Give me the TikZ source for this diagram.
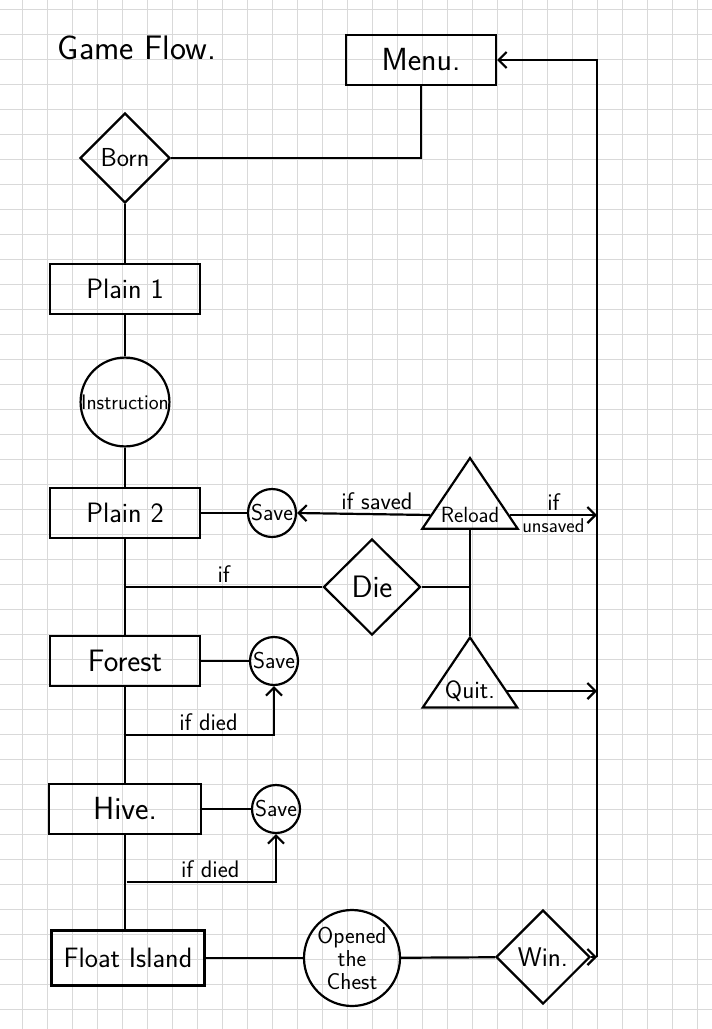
\documentclass[tikz,border=0pt]{standalone}
\usepackage{tikz}
\usetikzlibrary{arrows.meta,shapes.geometric,positioning,calc}
\renewcommand{\familydefault}{\sfdefault}
\tikzset{
    paper/.style={draw=gray!30, line width=0.6pt},
    box/.style={rectangle, draw, line width=2.2pt, minimum width=150pt, minimum height=50pt, font=\fontsize{28}{30}\selectfont},
    choice/.style={diamond, draw, line width=2.2pt, inner sep=0pt},
    savept/.style={circle, draw, line width=2.2pt, minimum size=48pt, inner sep=0pt, font=\fontsize{23}{25}\selectfont},
    tri/.style={isosceles triangle, isosceles triangle apex angle=68, shape border rotate=90, draw, line width=2.2pt, inner xsep=0pt, inner ysep=6pt},
    flow/.style={draw, line width=2.2pt},
    arrow/.style={draw, line width=2.2pt, -{Straight Barb[length=8pt, width=16pt]}},
    note/.style={font=\fontsize{24}{26}\selectfont, inner sep=3pt}
}
\begin{document}
\begin{tikzpicture}[x=1pt, y=-1pt]
    \useasboundingbox (0,0) rectangle (712,1029);
    % paper grid
    \foreach \gx in {22,47,...,712} \draw[paper] (\gx,0) -- (\gx,1029);
    \foreach \gy in {9,34,...,1029} \draw[paper] (0,\gy) -- (712,\gy);

    % Nodes
    \node[font=\fontsize{34}{36}\selectfont] (title) at (137,48) {Game Flow.};
    \node[box, font=\fontsize{32}{34}\selectfont] (menu) at (421,60) {Menu.};
    \node[choice, minimum width=90pt, minimum height=90pt, font=\fontsize{26}{28}\selectfont] (born) at (125,158) {Born};
    \node[box] (plain1) at (125,289) {Plain 1};
    \node[circle, draw, line width=2.2pt, minimum size=88pt, inner sep=0pt, font=\fontsize{21}{23}\selectfont] (instr) at (125,402) {Instruction};
    \node[box] (plain2) at (125,513) {Plain 2};
    \node[savept] (save1) at (272,513) {Save};
    \node[tri, font=\fontsize{22}{24}\selectfont] (reload) at (470,515) {Reload};
    \node[tri, font=\fontsize{25}{27}\selectfont] (quit) at (470,691) {Quit.};
    \node[choice, minimum width=97pt, minimum height=96pt, font=\fontsize{31}{33}\selectfont] (die) at (372,587) {Die};
    \node[box, font=\fontsize{31}{33}\selectfont] (forest) at (125,661) {Forest};
    \node[savept] (save2) at (274,661) {Save};
    \node[box, minimum width=152pt, font=\fontsize{32}{34}\selectfont] (hive) at (125,809) {Hive.};
    \node[savept] (save3) at (276,809) {Save};
    \node[box, minimum width=153pt, minimum height=55pt] (float) at (128,958) {Float Island};
    \node[circle, draw, line width=2.2pt, minimum size=96pt, inner sep=0pt, align=center, font=\fontsize{23}{23}\selectfont] (chest) at (352,958) {Opened\\the\\Chest};
    \node[choice, minimum width=94pt, minimum height=94pt, font=\fontsize{27}{29}\selectfont] (win) at (543,957) {Win.};
    \coordinate (rail) at (597,957);

    % edges
    \draw[flow] (menu.south) |- (born.east);
    \draw[flow] (born) -- (plain1);
    \draw[flow] (plain1) -- (instr);
    \draw[flow] (instr) -- (plain2);
    \draw[flow] (plain2) -- (forest);
    \draw[flow] (forest) -- (hive);
    \draw[flow] (hive.south) -- (hive.south |- float.north);
    \draw[flow] (plain2) -- (save1);
    \draw[arrow] (reload.west) -- node[note, above, pos=0.4] {if saved} (save1.east);
    \draw[arrow] (reload.east) -- node[note, above] {if} node[note, below, font=\fontsize{20}{22}\selectfont] {unsaved} (reload.east -| rail);
    \draw[flow] (reload.lower side) -- (quit.apex);
    \draw[arrow] (quit.east) -- (quit.east -| rail);
    \draw[flow] (die.east) -- (die.east -| reload.lower side);
    \draw[flow] (die.west) -- node[note, above] {if} (die.west -| plain2.south);
    \draw[flow] (forest) -- (save2);
    \draw[arrow] ($(forest.south)!0.5!(hive.north)$) -| node[note, above, pos=0.28] {if died} (save2.south);
    \draw[flow] (hive) -- (save3);
    \draw[arrow] ($(hive.south)!0.5!(float.north)$) -| node[note, above, pos=0.28] {if died} (save3.south);
    \draw[flow] (float) -- (chest);
    \draw[flow] (chest) -- (win);
    \draw[arrow] (win.east) -- (rail);
    \draw[arrow] (rail) |- (menu.east);
\end{tikzpicture}
\end{document}
